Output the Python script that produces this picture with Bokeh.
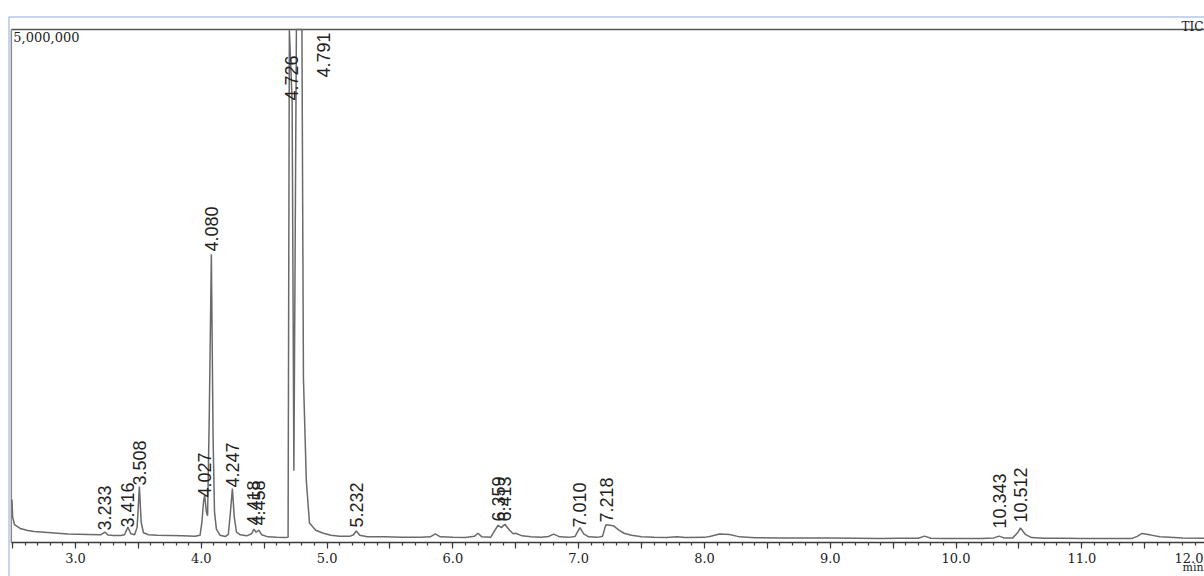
import numpy as np
from bokeh.plotting import figure
from bokeh.models import (Range1d, Span, Label, FixedTicker, CustomJSTickFormatter,
                          ColumnDataSource, LinearAxis)
from bokeh.core.properties import value
from bokeh.embed import file_html
from bokeh.resources import INLINE

# ---------------- data ----------------
time_min = [
    2.495, 2.500, 2.515, 2.56, 2.62, 2.67, 2.78, 2.94, 3.10, 3.20,
    3.233, 3.26, 3.30, 3.36, 3.39, 3.416, 3.44, 3.47, 3.49, 3.508,
    3.522, 3.54, 3.58, 3.65, 3.75, 3.85, 3.95, 3.99, 4.005, 4.018,
    4.027, 4.040, 4.050, 4.063, 4.080, 4.094, 4.105, 4.12, 4.15, 4.19,
    4.215, 4.232, 4.247, 4.262, 4.28, 4.31, 4.36, 4.40, 4.418, 4.435,
    4.458, 4.48, 4.53, 4.60, 4.66, 4.690, 4.700, 4.722, 4.736, 4.756,
    4.800, 4.812, 4.835, 4.86, 4.91, 4.97, 5.03, 5.10, 5.18, 5.21,
    5.232, 5.26, 5.32, 5.45, 5.60, 5.75, 5.82, 5.86, 5.90, 6.00,
    6.10, 6.17, 6.20, 6.23, 6.30, 6.33, 6.359, 6.385, 6.413, 6.45,
    6.48, 6.50, 6.55, 6.62, 6.70, 6.76, 6.80, 6.85, 6.92, 6.97,
    7.010, 7.04, 7.08, 7.15, 7.19, 7.21, 7.218, 7.25, 7.28, 7.32,
    7.36, 7.42, 7.50, 7.60, 7.70, 7.78, 7.85, 8.00, 8.05, 8.12,
    8.20, 8.28, 8.40, 8.60, 8.80, 9.00, 9.20, 9.40, 9.55, 9.70,
    9.75, 9.80, 9.90, 10.05, 10.20, 10.30, 10.343, 10.38, 10.45, 10.49,
    10.512, 10.55, 10.60, 10.70, 10.85, 11.00, 11.20, 11.40, 11.44, 11.48,
    11.55, 11.62, 11.70, 11.80, 11.98,
]
intensity = [
    420000, 250000, 175000, 137000, 117000, 107000, 97000, 83000, 78000, 75000,
    102000, 72000, 68000, 68000, 75000, 150000, 85000, 75000, 150000, 546000,
    200000, 95000, 75000, 70000, 68000, 65000, 62000, 70000, 200000, 400000,
    460000, 300000, 260000, 1200000, 2810000, 1000000, 300000, 130000, 70000, 58000,
    80000, 300000, 526000, 250000, 100000, 75000, 65000, 85000, 130000, 100000,
    120000, 75000, 55000, 50000, 48000, 50000, 5600000, 4300000, 700000, 5600000,
    6000000, 1600000, 600000, 190000, 120000, 90000, 70000, 60000, 60000, 75000,
    112000, 70000, 55000, 55000, 50000, 50000, 55000, 85000, 55000, 50000,
    48000, 60000, 90000, 55000, 50000, 110000, 168000, 145000, 178000, 120000,
    85000, 90000, 65000, 55000, 52000, 58000, 82000, 55000, 50000, 58000,
    145000, 85000, 55000, 50000, 60000, 150000, 172000, 168000, 160000, 120000,
    90000, 70000, 55000, 50000, 48000, 55000, 48000, 50000, 60000, 82000,
    78000, 55000, 46000, 45000, 44000, 44000, 42000, 40000, 42000, 42000,
    62000, 42000, 40000, 38000, 40000, 45000, 62000, 45000, 45000, 95000,
    143000, 80000, 48000, 42000, 42000, 38000, 38000, 40000, 60000, 88000,
    72000, 55000, 52000, 45000, 42000,
]

peak_labels = ["3.233", "3.416", "3.508", "4.027", "4.080", "4.247", "4.418", "4.458",
               "4.726", "4.791", "5.232", "6.359", "6.413", "7.010", "7.218",
               "10.343", "10.512"]
# intensity at which each label starts (label sits above its peak)
label_level = [117000, 146000, 556000, 439000, 2836000, 536000, 166000, 166000,
               4308000, 4532000, 146000, 205000, 205000, 146000, 195000,
               136000, 195000]
# horizontal shift of a label off its peak (min); the off-scale peak is labelled to the side
label_shift = [0, 0, 0, 0, 0, 0, 0, 0, -0.01, 0.18, 0, 0, 0, 0, 0, 0, 0]

FULL_SCALE = 5_000_000
full_scale_text = "5,000,000"
trace_name = "TIC"
axis_unit = "min"
last_tick_text = "12.0"

# ---------------- layout constants ----------------
PX = 9747                      # intensity per pixel
X_START, X_END = 2.4674, 11.975
CHART_LEFT = 2.49
Y_TOP = FULL_SCALE + 13 * PX
Y_BOTTOM = -34 * PX            # room under the axis for tick labels
BLUE = "#8eaadb"

p = figure(width=1204, height=576, output_backend="svg", toolbar_location=None,
           x_range=Range1d(X_START, X_END), y_range=Range1d(Y_BOTTOM, Y_TOP),
           x_axis_location=None, y_axis_location=None,
           min_border_left=8, min_border_right=0, min_border_top=16, min_border_bottom=0,
           background_fill_color="white", border_fill_color="white",
           outline_line_color=None)
p.grid.visible = False

major = [2.5 + 0.5 * i for i in range(20)]
minor = [round(2.5 + 0.1 * i, 1) for i in range(96)]
ax = LinearAxis(fixed_location=0)
ax.ticker = FixedTicker(ticks=major, minor_ticks=minor)
ax.formatter = CustomJSTickFormatter(
    code="return (Math.abs(tick - Math.round(tick)) < 1e-6) ? tick.toFixed(1) : '';")
ax.bounds = (CHART_LEFT, 12.0)
ax.axis_line_color = "#3a3a3a"
ax.axis_line_width = 1.5
ax.major_tick_line_color = "#3a3a3a"
ax.major_tick_line_width = 1.2
ax.major_tick_out = 6
ax.major_tick_in = 0
ax.minor_tick_line_color = "#3a3a3a"
ax.minor_tick_line_width = 1.2
ax.minor_tick_out = 3
ax.minor_tick_in = 0
ax.major_label_text_font = "DejaVu Serif"
ax.major_label_text_font_size = "13px"
ax.major_label_text_color = "#222222"
ax.major_label_standoff = 5
p.add_layout(ax, "below")

# outer blue frame lines
p.add_layout(Span(location=Y_TOP, dimension="width", line_color=BLUE, line_width=2))
p.add_layout(Span(location=X_START, dimension="height", line_color=BLUE, line_width=2))

# chart border (top and left)
p.segment(x0=[CHART_LEFT, CHART_LEFT], y0=[FULL_SCALE, 0], x1=[X_END, CHART_LEFT],
          y1=[FULL_SCALE, FULL_SCALE], line_color=["#555555", "#8a8a8a"], line_width=1.5)

# trace, clipped at full scale like the instrument plot
t = np.array(time_min)
v = np.minimum(np.array(intensity, dtype=float), FULL_SCALE)
p.line(t, v, line_color="#6a6a6a", line_width=1.5)

# peak labels
lab_src = ColumnDataSource(dict(
    x=[float(s) + d for s, d in zip(peak_labels, label_shift)],
    y=label_level, text=peak_labels))
p.text(x="x", y="y", text="text", source=lab_src, angle=np.pi / 2,
       text_align="left", text_baseline="middle",
       text_font=value("Liberation Sans"), text_font_size="18px",
       text_color="#222222")

p.add_layout(Label(x=CHART_LEFT, y=FULL_SCALE, text=full_scale_text, x_offset=2, y_offset=-2,
                   text_baseline="top", text_font="DejaVu Serif", text_font_size="13px",
                   text_color="#222222"))
p.add_layout(Label(x=X_END, y=FULL_SCALE, text=trace_name, x_offset=-1, y_offset=3,
                   text_align="right", text_baseline="alphabetic", text_font="DejaVu Serif",
                   text_font_size="12px", text_color="#222222"))
# the 12.0 tick lies just past the right edge; its label is kept whole at the edge
p.add_layout(Label(x=X_END, y=0, text=last_tick_text, x_offset=-1, y_offset=-11,
                   text_align="right", text_baseline="top", text_font="DejaVu Serif",
                   text_font_size="13px", text_color="#222222"))
p.add_layout(Label(x=X_END, y=0, text=axis_unit, x_offset=-1, y_offset=-32,
                   text_align="right", text_baseline="bottom", text_font="DejaVu Serif",
                   text_font_size="11px", text_color="#222222"))

open("out.html", "w").write(file_html(p, INLINE))
